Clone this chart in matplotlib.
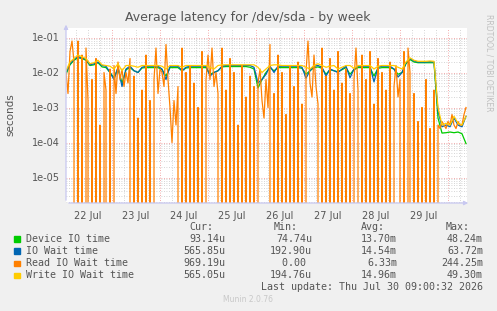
import numpy as np
import matplotlib
matplotlib.use("Agg")
from matplotlib import pyplot as plt
from matplotlib.ticker import FixedLocator, LogLocator, NullFormatter

# hours after Jul 22 00:00 (hourly for the read series, 2-hourly for the rest)
hours_read = np.arange(1, 202)
hours_main = np.arange(1, 202, 2)

# log10 of seconds, -9 means 0 (drops to the bottom of the log axis)
read_log = [
    -2.0, -2.6, -1.4, -1.1, -1.7, -9, -1.1, -9, -1.5, -9, -1.3, -2.8,
    -9, -2.2, -9, -1.6, -9, -3.5, -9, -2.0, -2.5, -9, -1.9, -9,
    -1.8, -2.6, -1.7, -2.2, -1.9, -2.4, -2.0, -2.3, -1.6, -9, -2.1, -9,
    -3.3, -9, -2.5, -9, -1.5, -9, -2.8, -9, -2.2, -1.3, -2.6, -1.9,
    -2.0, -2.4, -1.2, -2.2, -3.0, -4.0, -2.8, -3.5, -2.4, -9, -1.3, -9,
    -2.0, -9, -1.8, -9, -2.3, -9, -3.0, -9, -1.4, -9, -2.2, -1.5,
    -2.2, -1.3, -2.4, -2.0, -2.6, -9, -1.3, -9, -2.5, -9, -1.6, -9,
    -2.0, -9, -3.5, -9, -1.8, -9, -2.7, -9, -2.1, -9, -2.4, -9,
    -2.3, -1.9, -2.8, -3.3, -2.2, -3.0, -1.2, -9, -2.6, -9, -1.5, -9,
    -2.0, -9, -3.2, -9, -1.8, -9, -2.4, -9, -1.7, -9, -2.9, -9,
    -2.0, -1.1, -2.3, -2.7, -1.5, -2.4, -2.9, -9, -1.3, -9, -2.1, -9,
    -1.6, -9, -2.5, -9, -1.4, -9, -2.3, -9, -1.9, -9, -2.6, -9,
    -2.2, -1.3, -2.5, -9, -1.5, -9, -2.2, -9, -1.4, -9, -2.9, -9,
    -1.6, -9, -2.0, -9, -2.5, -9, -1.7, -9, -2.4, -1.8, -2.7, -2.2,
    -9, -1.4, -9, -1.3, -2.0, -9, -2.6, -9, -3.4, -9, -3.0, -9,
    -2.2, -9, -3.6, -9, -2.5, -9, -3.5, -3.6, -3.4, -3.5, -3.6, -3.4,
    -3.5, -3.2, -3.5, -3.6, -3.4, -3.5, -3.5, -3.2, -3.0,
]

device_log = [
    -2.05, -1.78, -1.65, -1.58, -1.6, -1.65, -1.8, -1.78, -1.72, -1.84, -1.86, -2.0,
    -2.15, -1.88, -2.3, -1.92, -1.86, -1.95, -2.0, -1.87, -1.86, -1.86, -1.86, -1.86,
    -1.92, -2.1, -1.86, -1.86, -1.86, -1.95, -1.87, -1.86, -1.86, -1.86, -1.86, -1.86,
    -2.05, -2.0, -1.95, -1.84, -1.83, -1.83, -1.83, -1.83, -1.83, -1.83, -1.85, -1.9,
    -2.44, -2.2, -2.0, -1.86, -1.95, -1.86, -1.86, -1.86, -1.86, -1.86, -1.86, -1.88,
    -2.05, -1.95, -1.86, -1.84, -1.88, -2.05, -1.92, -1.95, -1.98, -1.92, -1.86, -2.05,
    -1.92, -1.86, -1.86, -1.86, -1.86, -2.1, -1.88, -1.86, -1.86, -1.86, -1.9, -2.05,
    -2.0, -1.75, -1.63, -1.7, -1.72, -1.72, -1.72, -1.72, -1.72, -3.3, -3.73, -3.72,
    -3.7, -3.72, -3.7, -3.75, -4.03,
]

iowait_log = [
    -2.0, -1.75, -1.62, -1.55, -1.58, -1.62, -1.78, -1.75, -1.7, -1.8, -1.82, -2.0,
    -2.2, -1.85, -2.4, -1.9, -1.82, -1.95, -2.0, -1.85, -1.82, -1.82, -1.82, -1.82,
    -1.9, -2.2, -1.82, -1.82, -1.82, -1.95, -1.85, -1.82, -1.82, -1.82, -1.82, -1.82,
    -2.1, -2.0, -1.95, -1.82, -1.8, -1.8, -1.8, -1.8, -1.8, -1.8, -1.8, -1.85,
    -2.3, -2.2, -2.05, -1.82, -2.0, -1.82, -1.82, -1.82, -1.82, -1.82, -1.82, -1.85,
    -2.16, -1.95, -1.82, -1.8, -1.85, -2.1, -1.9, -1.95, -2.0, -1.9, -1.82, -2.15,
    -1.9, -1.82, -1.82, -1.82, -1.82, -2.27, -1.85, -1.82, -1.82, -1.82, -1.9, -2.13,
    -2.0, -1.72, -1.6, -1.67, -1.7, -1.7, -1.7, -1.69, -1.7, -3.1, -3.55, -3.5,
    -3.55, -3.3, -3.5, -3.55, -3.25,
]

write_log = [
    -1.95, -1.7, -1.6, -1.5, -1.55, -1.6, -1.75, -1.72, -1.65, -1.78, -1.8, -1.82,
    -1.9, -1.75, -1.95, -1.8, -1.8, -1.82, -1.85, -1.8, -1.8, -1.8, -1.8, -1.8,
    -1.82, -1.9, -1.8, -1.8, -1.8, -1.85, -1.8, -1.8, -1.8, -1.8, -1.8, -1.8,
    -1.85, -1.9, -1.8, -1.78, -1.78, -1.78, -1.78, -1.78, -1.78, -1.78, -1.78, -1.78,
    -1.85, -2.0, -1.9, -1.8, -1.78, -1.78, -1.8, -1.8, -1.8, -1.8, -1.8, -1.8,
    -1.85, -1.9, -1.8, -1.75, -1.8, -1.85, -1.82, -1.8, -1.9, -1.85, -1.8, -1.8,
    -1.88, -1.8, -1.8, -1.8, -1.8, -1.9, -1.82, -1.8, -1.8, -1.8, -1.8, -1.85,
    -1.9, -1.7, -1.58, -1.65, -1.68, -1.68, -1.68, -1.67, -1.68, -3.0, -3.5, -3.45,
    -3.5, -3.25, -3.45, -3.5, -3.25,
]

day_labels = ["22 Jul", "23 Jul", "24 Jul", "25 Jul", "26 Jul", "27 Jul", "28 Jul", "29 Jul"]
ytick_labels = ["1e-05", "1e-04", "1e-03", "1e-02", "1e-01"]

legend_names = ["Device IO time", "IO Wait time", "Read IO Wait time", "Write IO Wait time"]
legend_colors = ["#00CC00", "#0066B3", "#FF8000", "#FFCC00"]
cur_vals = ["93.14u", "565.85u", "969.19u", "565.05u"]
min_vals = ["74.74u", "192.90u", "0.00 ", "194.76u"]
avg_vals = ["13.70m", "14.54m", "6.33m", "14.96m"]
max_vals = ["48.24m", "63.72m", "244.25m", "49.30m"]


def to_sec(lst):
    a = np.array(lst, dtype=float)
    return np.where(a < -8, 0.0, 10.0 ** a)


W, H = 497, 311
fig = plt.figure(figsize=(W / 100, H / 100), dpi=100, facecolor="#F0F0F0")
ax = fig.add_axes([66 / W, 1 - 203 / H, (467 - 66) / W, (203 - 28) / H])
ax.set_facecolor("white")

xr = 22 + hours_read / 24
xm = 22 + hours_main / 24
ax.plot(xm, to_sec(device_log), color=legend_colors[0], lw=0.9)
ax.plot(xm, to_sec(iowait_log), color=legend_colors[1], lw=0.9)
ax.plot(xr, to_sec(read_log), color=legend_colors[2], lw=0.9)
ax.plot(xm, to_sec(write_log), color=legend_colors[3], lw=0.9)

ax.set_yscale("log")
ax.set_ylim(1.87e-6, 0.187)
ax.set_xlim(22 + 2 / 48, 22 + 403 / 48)

# grids: red at midnight / decades, grey dotted minor
dots = (0, (1, 2))
ax.xaxis.set_major_locator(FixedLocator(np.arange(23, 31)))
ax.xaxis.set_minor_locator(FixedLocator(np.arange(22.25, 30.4, 0.25)))
ax.yaxis.set_major_locator(FixedLocator([1e-5, 1e-4, 1e-3, 1e-2, 1e-1]))
ax.yaxis.set_minor_locator(LogLocator(base=10, subs=np.arange(2, 10)))
ax.yaxis.set_minor_formatter(NullFormatter())
ax.grid(which="minor", color="#C8C8C8", lw=0.6, ls=dots)
ax.grid(which="major", color="#F09090", lw=0.6, ls=dots)
ax.set_axisbelow(True)
ax.tick_params(which="both", length=0, labelbottom=False, labelleft=False)
for s in ax.spines.values():
    s.set_visible(False)

# tick labels by hand so they sit like rrdtool's
for i, lab in enumerate(day_labels):
    ax.text(22.5 + i, -0.045, lab, transform=ax.get_xaxis_transform(),
            ha="center", va="top", fontsize=7, color="#555555")
for i, lab in enumerate(ytick_labels):
    ax.text(-0.015, 10.0 ** (i - 5), lab, transform=ax.get_yaxis_transform(),
            ha="right", va="center", fontsize=7, color="#555555")

# axis lines with arrows
acol = "#C8C8F0"
ax.annotate("", xy=(0, 1.035), xytext=(0, 0), xycoords="axes fraction",
            arrowprops=dict(arrowstyle="-|>", color=acol, lw=0.9, mutation_scale=6),
            annotation_clip=False)
ax.annotate("", xy=(1.01, 0), xytext=(0, 0), xycoords="axes fraction",
            arrowprops=dict(arrowstyle="-|>", color=acol, lw=0.9, mutation_scale=6),
            annotation_clip=False)

fig.text(248 / W, 1 - 18 / H, "Average latency for /dev/sda - by week",
         ha="center", va="center", fontsize=9, color="#555555")
fig.text(10 / W, 1 - 115 / H, "seconds", rotation=90, ha="center", va="center",
         fontsize=7.5, color="#555555")
fig.text(489 / W, 1 - 14 / H, "RRDTOOL / TOBI OETIKER", rotation=270,
         ha="center", va="top", fontsize=5.5, color="#C0C0C0")

# legend block
mono = "DejaVu Sans Mono"
tcol = "#555555"
fs = 7.2
hy = 227
for txt, xe in [("Cur:", 213), ("Min:", 298), ("Avg:", 385), ("Max:", 470)]:
    fig.text(xe / W, 1 - hy / H, txt, ha="right", va="center", family=mono, fontsize=fs, color=tcol)
for i, name in enumerate(legend_names):
    y = 1 - (239 + 12.1 * i) / H
    fig.patches.append(plt.Rectangle((14 / W, y - 2.8 / H), 5.5 / W, 5.5 / H,
                                     transform=fig.transFigure, color=legend_colors[i]))
    fig.text(26 / W, y, name, ha="left", va="center", family=mono, fontsize=fs, color=tcol)
    fig.text(225 / W, y, cur_vals[i], ha="right", va="center", family=mono, fontsize=fs, color=tcol)
    fig.text(312 / W, y, min_vals[i], ha="right", va="center", family=mono, fontsize=fs, color=tcol)
    fig.text(397 / W, y, avg_vals[i], ha="right", va="center", family=mono, fontsize=fs, color=tcol)
    fig.text(483 / W, y, max_vals[i], ha="right", va="center", family=mono, fontsize=fs, color=tcol)
fig.text(483 / W, 1 - 287.5 / H, "Last update: Thu Jul 30 09:00:32 2026", ha="right", va="center",
         family=mono, fontsize=fs, color=tcol)
fig.text(248 / W, 1 - 300 / H, "Munin 2.0.76", ha="center", va="center",
         fontsize=5.5, color="#C8C8C8")

fig.savefig("out.png", dpi=100, facecolor=fig.get_facecolor())
